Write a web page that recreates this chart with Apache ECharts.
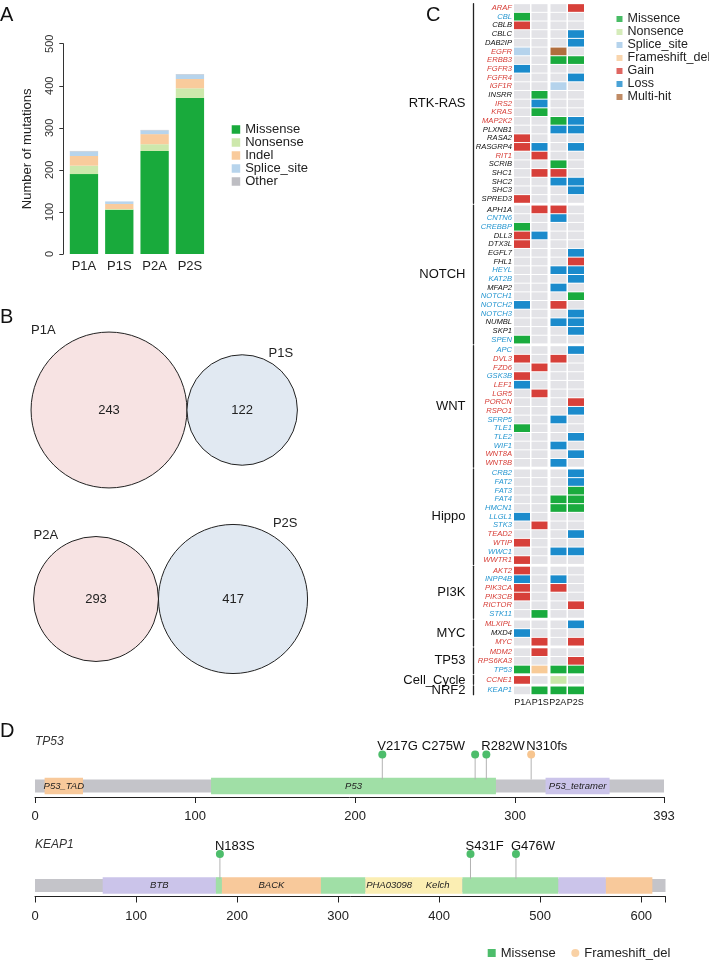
<!DOCTYPE html>
<html>
<head>
<meta charset="utf-8">
<script src="https://cdn.jsdelivr.net/npm/echarts@6/dist/echarts.min.js"></script>
<style>
  html, body { margin: 0; padding: 0; background: #fff; }
  #chart { width: 709px; height: 960px; }
</style>
</head>
<body>
<div id="chart"></div>
<script>
// ---- panel A: mutation counts per sample
const samples = ['P1A', 'P1S', 'P2A', 'P2S'];
const missense = [190, 105, 245, 371];
const nonsense = [20, 2, 16, 23];
const indel = [23, 12, 24, 22];
const spliceSite = [11, 6, 9, 11];
const other = [1, 0, 1, 1];

// ---- panel B: venn counts
const venn1Labels = ['P1A', 'P1S'];
const venn1Counts = [243, 122];
const venn2Labels = ['P2A', 'P2S'];
const venn2Counts = [293, 417];

// ---- panel C: pathway genes, calls per sample (M missence, N nonsence, S splice, F frameshift, G gain, L loss, H multi-hit)
// tones: r = red label, b = blue label, k = black label
const rtkRasGenes = ['ARAF', 'CBL', 'CBLB', 'CBLC', 'DAB2IP', 'EGFR', 'ERBB3', 'FGFR3', 'FGFR4', 'IGF1R', 'INSRR', 'IRS2',
  'KRAS', 'MAP2K2', 'PLXNB1', 'RASA2', 'RASGRP4', 'RIT1', 'SCRIB', 'SHC1', 'SHC2', 'SHC3', 'SPRED3'];
const rtkRasCalls = ['---G', 'M---', 'G---', '---L', '---L', 'S-H-', '--MM', 'L---', '---L', '--S-', '-M--', '-L--',
  '-M--', '--ML', '--LL', 'G---', 'GL-L', '-G--', '--M-', '-GG-', '--LL', '---L', 'G---'];
const rtkRasTones = 'rbkkkrrrrrkrrrkkkrkkkkk';

const notchGenes = ['APH1A', 'CNTN6', 'CREBBP', 'DLL3', 'DTX3L', 'EGFL7', 'FHL1', 'HEYL', 'KAT2B', 'MFAP2', 'NOTCH1',
  'NOTCH2', 'NOTCH3', 'NUMBL', 'SKP1', 'SPEN'];
const notchCalls = ['-GG-', '--L-', 'M---', 'GL--', 'G---', '---L', '---G', '--LL', '---L', '--L-', '---M',
  'L-G-', '---L', '--LL', '---L', 'M---'];
const notchTones = 'kbbkkkkbbkbbbkkb';

const wntGenes = ['APC', 'DVL3', 'FZD6', 'GSK3B', 'LEF1', 'LGR5', 'PORCN', 'RSPO1', 'SFRP5', 'TLE1', 'TLE2', 'WIF1',
  'WNT8A', 'WNT8B'];
const wntCalls = ['---L', 'G-G-', '-G--', 'G---', 'L---', '-G--', '---G', '---L', '--L-', 'M---', '---L', '--L-',
  '---L', '--L-'];
const wntTones = 'brrbrrrrbbbbrr';

const hippoGenes = ['CRB2', 'FAT2', 'FAT3', 'FAT4', 'HMCN1', 'LLGL1', 'STK3', 'TEAD2', 'WTIP', 'WWC1', 'WWTR1'];
const hippoCalls = ['---L', '---L', '---M', '--MM', '--MM', 'L---', '-G--', '---L', 'G---', '--LL', 'G---'];
const hippoTones = 'bbbbbbbrrbr';

const pi3kGenes = ['AKT2', 'INPP4B', 'PIK3CA', 'PIK3CB', 'RICTOR', 'STK11'];
const pi3kCalls = ['G---', 'L-L-', 'G-G-', 'G---', '---G', '-M--'];
const pi3kTones = 'rbrrrb';

const mycGenes = ['MLXIPL', 'MXD4', 'MYC'];
const mycCalls = ['---L', 'L---', '-G-G'];
const mycTones = 'rkr';

const tp53PathGenes = ['MDM2', 'RPS6KA3', 'TP53'];
const tp53PathCalls = ['-G--', '---G', 'MFMM'];
const tp53PathTones = 'rrb';

const cellCycleGenes = ['CCNE1'];
const cellCycleCalls = ['G-N-'];
const cellCycleTones = 'r';

const nrf2Genes = ['KEAP1'];
const nrf2Calls = ['-MMM'];
const nrf2Tones = 'b';

const heatTypes = ['Missence', 'Nonsence', 'Splice_site', 'Frameshift_del', 'Gain', 'Loss', 'Multi-hit'];

// ---- panel D: protein domains and mutations
const tp53Length = 393;
const tp53Domains = [['P53_TAD', 6, 30], ['P53', 110, 288], ['P53_tetramer', 319, 359]];
const tp53Mutations = [['V217G', 217, 'Missense'], ['C275W', 275, 'Missense'], ['R282W', 282, 'Missense'],
  ['N310fs', 310, 'Frameshift_del']];
const keap1Length = 624;
const keap1Domains = [['BTB', 67, 179], ['', 179, 185], ['BACK', 185, 283], ['', 283, 327], ['PHA03098', 327, 374],
  ['Kelch', 374, 423], ['', 423, 518], ['', 518, 565], ['', 565, 611]];
const keap1Mutations = [['N183S', 183, 'Missense'], ['S431F', 431, 'Missense'], ['G476W', 476, 'Missense']];

// ---- styles
const font = 'Liberation Sans, Arial, Helvetica, sans-serif';
const ink = '#222';
const aColors = ['#19aa3c', '#cde8ac', '#f9cb9c', '#b7d4ec', '#bebec3'];
const heatColors = ['#e3e3e7', '#1aab3e', '#cbe7a9', '#b5d3ec', '#f8cb98', '#d7403a', '#1b8bcc', '#b06e3e'];
const codeIndex = { '-': 0, M: 1, N: 2, S: 3, F: 4, G: 5, L: 6, H: 7 };
const toneColor = { r: '#d63c35', b: '#2596d0', k: '#111' };
const shadeColor = { orange: '#f8c99b', green: '#a0dfa6', purple: '#cbc4ea', yellow: '#fbeeb3' };
const tp53Shades = ['orange', 'green', 'purple'];
const keap1Shades = ['purple', 'green', 'orange', 'green', 'yellow', 'yellow', 'green', 'purple', 'orange'];
const headColor = { Missense: '#4dbd6b', Frameshift_del: '#f7c58f' };

const groups = [
  { name: 'RTK-RAS', genes: rtkRasGenes, calls: rtkRasCalls, tones: rtkRasTones },
  { name: 'NOTCH', genes: notchGenes, calls: notchCalls, tones: notchTones },
  { name: 'WNT', genes: wntGenes, calls: wntCalls, tones: wntTones },
  { name: 'Hippo', genes: hippoGenes, calls: hippoCalls, tones: hippoTones },
  { name: 'PI3K', genes: pi3kGenes, calls: pi3kCalls, tones: pi3kTones },
  { name: 'MYC', genes: mycGenes, calls: mycCalls, tones: mycTones },
  { name: 'TP53', genes: tp53PathGenes, calls: tp53PathCalls, tones: tp53PathTones },
  { name: 'Cell_Cycle', genes: cellCycleGenes, calls: cellCycleCalls, tones: cellCycleTones },
  { name: 'NRF2', genes: nrf2Genes, calls: nrf2Calls, tones: nrf2Tones },
];

const grid = [], xAxis = [], yAxis = [], series = [];

// ---------- A: stacked bars
grid.push({ left: 66.3, top: 43.7, width: 141.3, height: 210.3 });
xAxis.push({
  type: 'category', gridIndex: 0, data: samples,
  axisLine: { show: false }, axisTick: { show: false },
  axisLabel: { fontSize: 13, color: ink, margin: 6, fontFamily: font },
});
yAxis.push({
  type: 'value', gridIndex: 0, min: 0, max: 500, interval: 100, offset: 3,
  name: 'Number of mutations', nameLocation: 'middle', nameGap: 29, nameRotate: 90,
  nameTextStyle: { fontSize: 13, color: ink, fontFamily: font },
  axisLine: { show: true, lineStyle: { color: '#333', width: 1 } },
  axisTick: { show: true, length: 4, lineStyle: { color: '#333' } },
  axisLabel: { rotate: 90, fontSize: 11, color: '#333', margin: 8, fontFamily: font },
  splitLine: { show: false },
});
[['Missense', missense], ['Nonsense', nonsense], ['Indel', indel], ['Splice_site', spliceSite], ['Other', other]]
  .forEach(([name, vals], i) => {
    series.push({
      type: 'bar', name, stack: 'muts', xAxisIndex: 0, yAxisIndex: 0, data: vals,
      barWidth: 28.3, itemStyle: { color: aColors[i] },
    });
  });

// ---------- B: venn pairs, radius ~ sqrt(count)
function addVenn(box, xRange, yRange, labels, counts) {
  const gi = grid.length;
  grid.push(box);
  xAxis.push({ type: 'value', gridIndex: gi, min: xRange[0], max: xRange[1], show: false });
  yAxis.push({ type: 'value', gridIndex: gi, min: yRange[0], max: yRange[1], show: false });
  const r = counts.map(Math.sqrt);
  series.push({
    type: 'custom', xAxisIndex: xAxis.length - 1, yAxisIndex: yAxis.length - 1,
    data: [[0, r[0]], [r[0] + r[1], r[1]]],
    renderItem(params, api) {
      const c = api.coord([api.value(0), 0]);
      const rad = api.size([api.value(1), 0])[0];
      const first = params.dataIndex === 0;
      return {
        type: 'group',
        children: [
          { type: 'circle', shape: { cx: c[0], cy: c[1], r: rad },
            style: { fill: first ? '#f7e3e3' : '#e1e9f2', stroke: ink, lineWidth: 1 } },
          { type: 'text', x: c[0], y: c[1],
            style: { text: String(counts[params.dataIndex]), font: '13px ' + font, fill: ink,
              align: 'center', verticalAlign: 'middle' } },
          { type: 'text', x: first ? c[0] - rad : c[0] + 0.7 * rad, y: c[1] - rad - 1.5,
            style: { text: labels[params.dataIndex], font: '13px ' + font, fill: ink,
              align: first ? 'left' : 'center', verticalAlign: 'middle' } },
        ],
      };
    },
  });
}
addVenn({ left: 29, top: 330, width: 280, height: 160 }, [-16, 40], [-16, 16], venn1Labels, venn1Counts);
addVenn({ left: 23, top: 518.7, width: 219, height: 160.6 }, [-20, 40], [-22, 22], venn2Labels, venn2Counts);

// ---------- C: oncoplot by pathway
const rowH = 8.68, groupGap = 1.75, heatTop = 3.66;
function cellRender(params, api) {
  const col = api.value(0);
  const c = api.coord([col, api.value(1)]);
  const s = api.size([1, 1]);
  const w = s[0] - 1.5, h = s[1] - 1;
  const shift = col < 2 ? -0.75 : 0.75;
  return {
    type: 'rect',
    shape: { x: c[0] - w / 2 + shift, y: c[1] - h / 2, width: w, height: h },
    style: { fill: heatColors[api.value(2)] },
  };
}
let rowsBefore = 0;
let firstHeat = null;
groups.forEach((g, i) => {
  const gi = grid.length;
  grid.push({ left: 514, top: heatTop + rowsBefore * rowH + i * groupGap, width: 70, height: g.genes.length * rowH });
  rowsBefore += g.genes.length;
  const last = i === groups.length - 1;
  const xi = xAxis.length;
  xAxis.push({
    type: 'category', gridIndex: gi, data: samples,
    axisLine: { show: false }, axisTick: { show: false },
    axisLabel: { show: last, interval: 0, fontSize: 9, color: '#111', margin: 3, fontFamily: font },
  });
  const yi = yAxis.length;
  yAxis.push({
    type: 'category', gridIndex: gi, data: g.genes, inverse: true, position: 'left',
    axisLine: { show: false }, axisTick: { show: false },
    axisLabel: {
      interval: 0, fontSize: 7.6, fontStyle: 'italic', margin: 2, fontFamily: font,
      color: (v) => toneColor[g.tones[g.genes.indexOf(v)]] || ink,
    },
  });
  yAxis.push({
    type: 'value', gridIndex: gi, min: 0, max: 1, position: 'left', offset: 40.5,
    name: g.name, nameLocation: 'middle', nameRotate: 0, nameGap: 8,
    nameTextStyle: { fontSize: 13, color: '#111', align: 'right', verticalAlign: 'middle', fontFamily: font },
    axisLine: { show: true, lineStyle: { color: ink, width: 1.3 } },
    axisTick: { show: false }, axisLabel: { show: false }, splitLine: { show: false },
  });
  const data = [];
  g.calls.forEach((call, r) => {
    for (let c = 0; c < samples.length; c++) data.push([c, r, codeIndex[call[c]]]);
  });
  series.push({ type: 'custom', name: g.name, xAxisIndex: xi, yAxisIndex: yi, data, renderItem: cellRender });
  if (firstHeat === null) firstHeat = { xi, yi };
});
// legend entries for the oncoplot
heatTypes.forEach((t, i) => {
  series.push({ type: 'scatter', name: t, xAxisIndex: firstHeat.xi, yAxisIndex: firstHeat.yi, data: [],
    itemStyle: { color: heatColors[i + 1] } });
});

// ---------- D: lollipops
function addProtein(box, length, labelVals, tickVals, domains, shades, muts) {
  const gi = grid.length;
  grid.push(box);
  const xi = xAxis.length, yi = yAxis.length;
  xAxis.push({
    type: 'value', gridIndex: gi, min: 0, max: length,
    axisLine: { show: true, onZero: false, lineStyle: { color: ink, width: 1 } },
    axisTick: { show: true, length: 6, customValues: tickVals, lineStyle: { color: ink } },
    axisLabel: { customValues: labelVals, fontSize: 13, color: ink, margin: 13, fontFamily: font },
    splitLine: { show: false },
  });
  yAxis.push({ type: 'value', gridIndex: gi, min: -0.35, max: 1.45, show: false });
  series.push({
    type: 'custom', xAxisIndex: xi, yAxisIndex: yi,
    data: [[0, length]].concat(domains.map(d => [d[1], d[2]])),
    renderItem(params, api) {
      const a = api.coord([api.value(0), 0]);
      const b = api.coord([api.value(1), 0]);
      if (params.dataIndex === 0) {
        return { type: 'rect', shape: { x: a[0], y: a[1] - 6.5, width: b[0] - a[0], height: 13 },
          style: { fill: '#c4c4c9' } };
      }
      const k = params.dataIndex - 1;
      return {
        type: 'group',
        children: [
          { type: 'rect', shape: { x: a[0], y: a[1] - 8.3, width: b[0] - a[0], height: 16.6 },
            style: { fill: shadeColor[shades[k]] } },
          { type: 'text', x: (a[0] + b[0]) / 2, y: a[1],
            style: { text: domains[k][0], font: 'italic 9.5px ' + font, fill: ink,
              align: 'center', verticalAlign: 'middle' } },
        ],
      };
    },
  });
  series.push({
    type: 'custom', xAxisIndex: xi, yAxisIndex: yi,
    data: muts.map(m => [m[1], 1]),
    renderItem(params, api) {
      const top = api.coord([api.value(0), api.value(1)]);
      const base = api.coord([api.value(0), 0]);
      return { type: 'line', shape: { x1: top[0], y1: top[1], x2: base[0], y2: base[1] - 6.5 },
        style: { stroke: '#b3b3b3', lineWidth: 1 } };
    },
  });
  ['Missense', 'Frameshift_del'].forEach(type => {
    const list = muts.filter(m => m[2] === type);
    if (!list.length) return;
    series.push({
      type: 'scatter', name: type, xAxisIndex: xi, yAxisIndex: yi, symbol: 'circle', symbolSize: 8,
      itemStyle: { color: headColor[type], opacity: 1 },
      label: { show: true, formatter: '{b}', position: [-1, -4], align: 'left', verticalAlign: 'middle',
        fontSize: 13, color: '#111', opacity: 1, fontFamily: font },
      data: list.map(m => {
        const item = { name: m[0], value: [m[1], 1] };
        // C275W sits next to R282W, its label is pushed to the left
        if (m[0] === 'C275W') item.label = { position: [-6, -4], align: 'right' };
        return item;
      }),
    });
  });
}
addProtein({ left: 35, top: 740.3, width: 629, height: 56.7 }, tp53Length,
  [0, 100, 200, 300, 393], [0, 100, 200, 300, 393], tp53Domains, tp53Shades, tp53Mutations);
addProtein({ left: 35, top: 839.8, width: 630.5, height: 56.7 }, keap1Length,
  [0, 100, 200, 300, 400, 500, 600], [0, 100, 200, 300, 400, 500, 600, 624], keap1Domains, keap1Shades, keap1Mutations);

const letter = (text, left, top) => ({ text, left, top, padding: 0,
  textStyle: { fontSize: 20, fontWeight: 'normal', color: '#111', fontFamily: font } });
const protName = (text, top) => ({ text, left: 35, top, padding: 0,
  textStyle: { fontSize: 12, fontWeight: 'normal', fontStyle: 'italic', color: '#333', fontFamily: font } });

const chart = echarts.init(document.getElementById('chart'));
chart.setOption({
  animation: false,
  backgroundColor: '#fff',
  textStyle: { fontFamily: font },
  title: [
    letter('A', 0, 5), letter('B', 0, 307), letter('C', 426, 5), letter('D', 0, 721),
    protName('TP53', 736), protName('KEAP1', 839),
  ],
  legend: [
    {
      orient: 'vertical', left: 231.7, top: 123, padding: 0, itemWidth: 8.5, itemHeight: 8.5, itemGap: 0, icon: 'rect',
      textStyle: { fontSize: 13, lineHeight: 12.75, color: ink, fontFamily: font },
      data: ['Missense', 'Nonsense', 'Indel', 'Splice_site', 'Other'].map((n, i) => ({ name: n, itemStyle: { color: aColors[i] } })),
    },
    {
      orient: 'vertical', left: 616.5, top: 12.5, padding: 0, itemWidth: 6, itemHeight: 6, itemGap: 0, icon: 'rect',
      textStyle: { fontSize: 12.5, lineHeight: 12.95, color: ink, fontFamily: font },
      data: heatTypes.map((n, i) => ({ name: n, itemStyle: { color: heatColors[i + 1] } })),
    },
    {
      orient: 'horizontal', left: 487.7, top: 946.5, padding: 0, itemWidth: 8, itemHeight: 8, itemGap: 15.7,
      textStyle: { fontSize: 13, color: ink, fontFamily: font },
      data: [
        { name: 'Missense', icon: 'rect', itemStyle: { color: headColor.Missense } },
        { name: 'Frameshift_del', icon: 'circle', itemStyle: { color: headColor.Frameshift_del } },
      ],
    },
  ],
  grid, xAxis, yAxis, series,
});
</script>
</body>
</html>
